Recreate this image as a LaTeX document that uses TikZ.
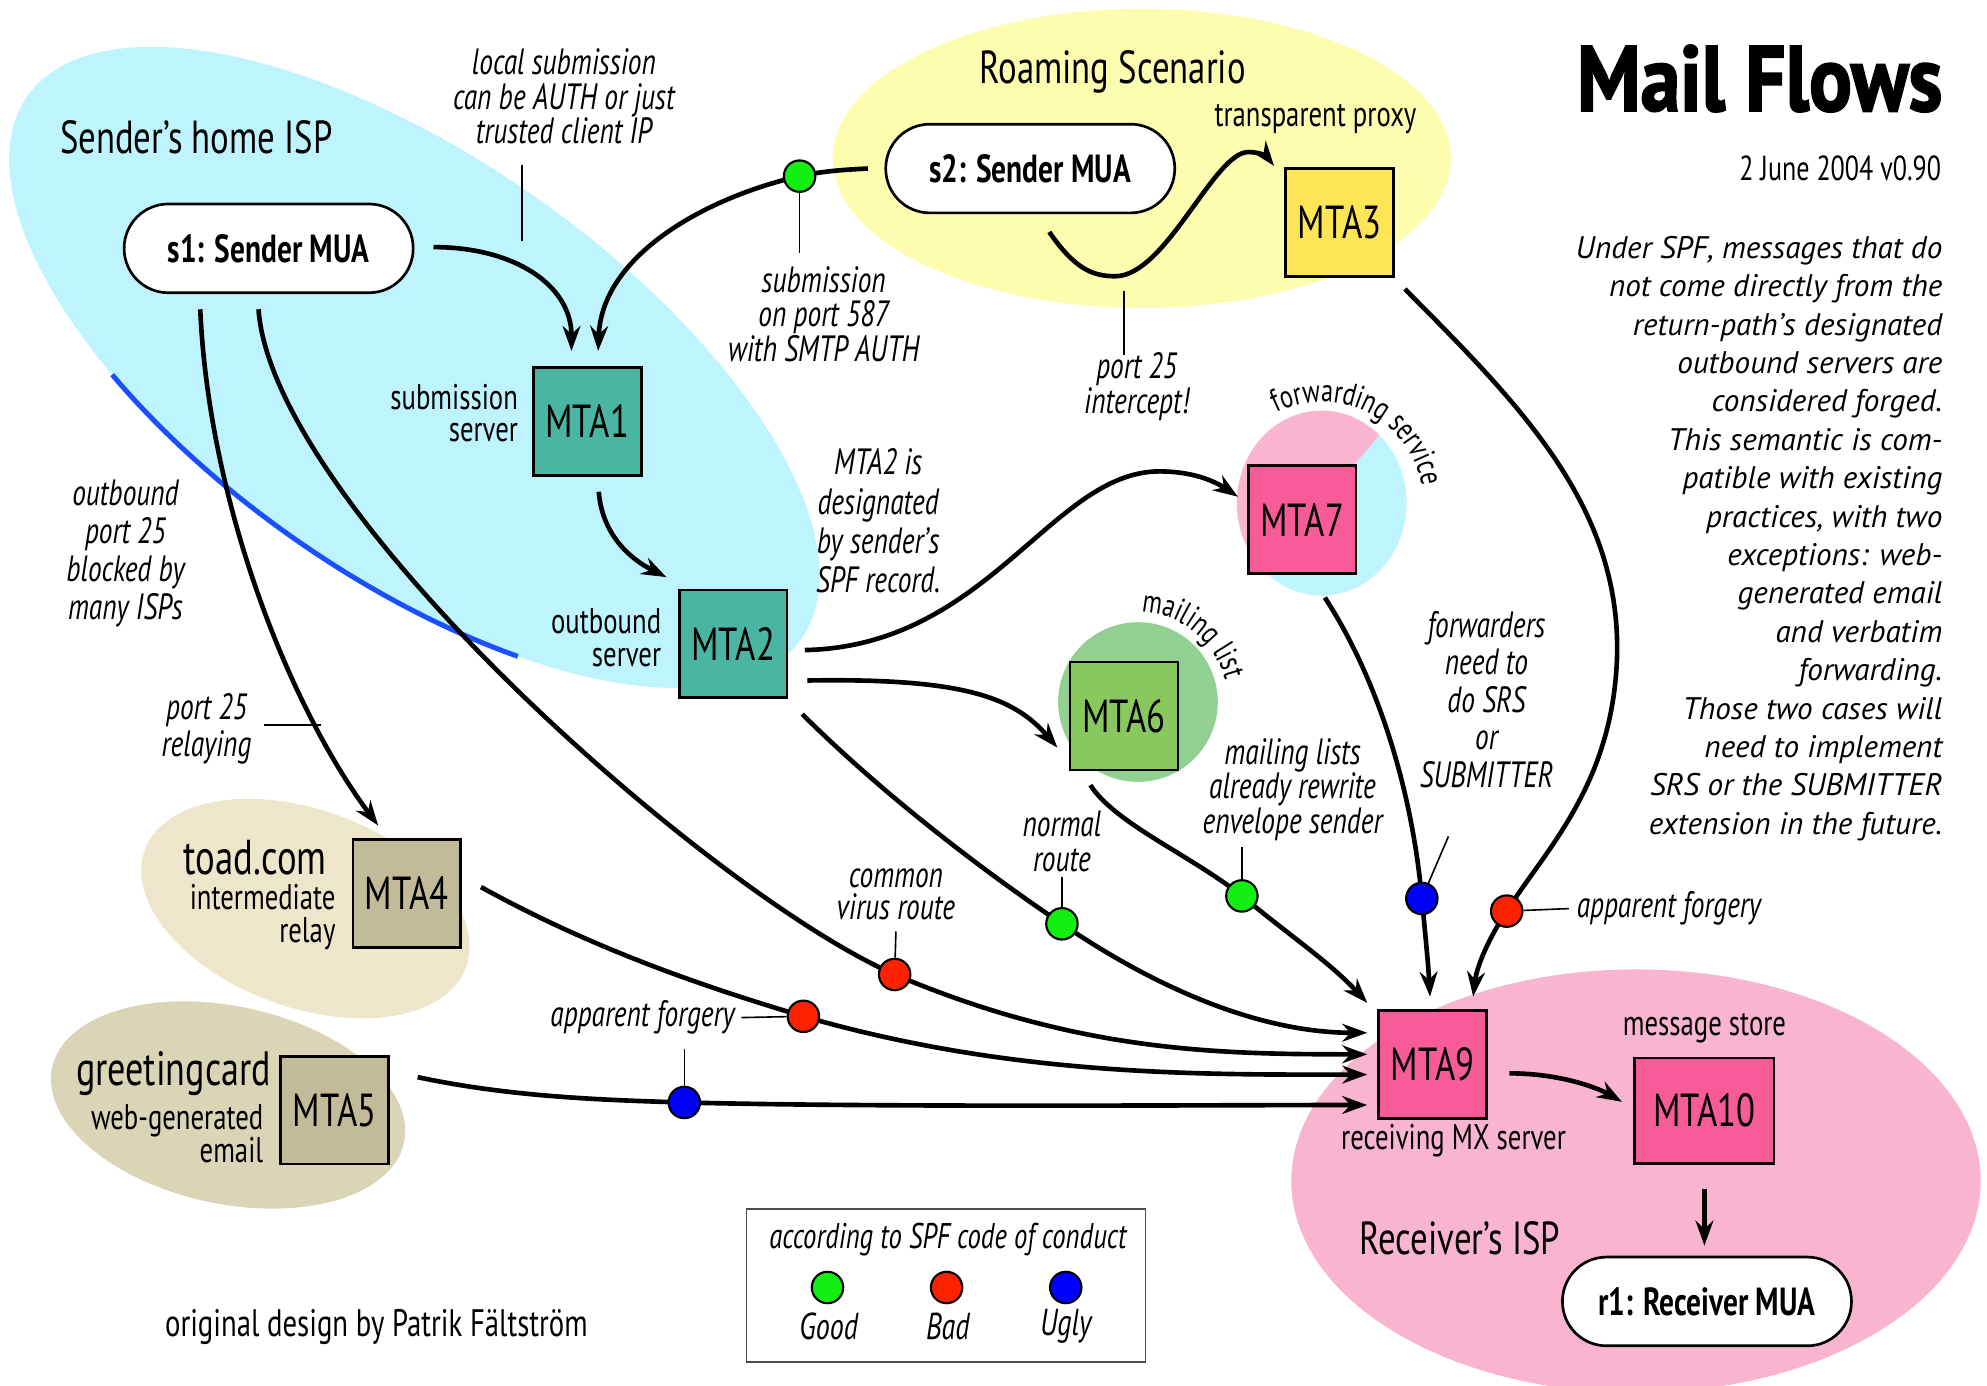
\documentclass[tikz,border=0pt]{standalone}
\usepackage{fontspec}
\setmainfont[FakeStretch=0.75]{PT Sans}
\newfontfamily\widefont{PT Sans}
\newfontfamily\titlefont[FakeStretch=0.86,FakeBold=2]{PT Sans}
\usetikzlibrary{arrows.meta,decorations.text,calc}
\definecolor{ispcyan}{HTML}{BEF4FD}
\definecolor{roamyel}{HTML}{FDFDB0}
\definecolor{rcvpink}{HTML}{F9B5D0}
\definecolor{toadtan}{HTML}{EEE6CB}
\definecolor{cardtan}{HTML}{DAD5B7}
\definecolor{mtateal}{HTML}{4BB5A3}
\definecolor{mtatan}{HTML}{C1BB9A}
\definecolor{mtayel}{HTML}{FEE556}
\definecolor{mtapink}{HTML}{F75B98}
\definecolor{mtagreen}{HTML}{88C85E}
\definecolor{mlgreen}{HTML}{91D091}
\definecolor{dotgreen}{HTML}{11F011}
\definecolor{dotred}{HTML}{FF2200}
\definecolor{dotblue}{HTML}{0000FF}
\definecolor{arcblue}{HTML}{1A50FF}
\tikzset{
  mtabox/.style={draw=black, line width=1.5pt, minimum width=2.125cm, minimum height=2.125cm, inner sep=0pt, font=\fontsize{26}{28}\selectfont},
  muapill/.style={draw=black, line width=1.5pt, fill=white, rounded corners=0.87cm, minimum width=5.7cm, minimum height=1.75cm, inner sep=0pt, font=\bfseries\fontsize{22}{24}\selectfont},
  flowarrow/.style={line width=2.6pt, -{Stealth[length=14pt,width=10pt]}},
  leadline/.style={line width=0.9pt},
  spfdot/.style={circle, draw=black, line width=1.2pt, minimum size=0.62cm, inner sep=0pt},
  itlab/.style={font=\itshape\fontsize{20.5}{19.5}\selectfont, align=center, inner sep=0pt},
  reglab/.style={font=\fontsize{20}{18.5}\selectfont, inner sep=0pt},
  biglab/.style={font=\fontsize{26}{28}\selectfont, inner sep=0pt},
}
\begin{document}
\begin{tikzpicture}[x=0.025cm,y=-0.025cm]
\useasboundingbox (0,0) rectangle (1568,1093.7);
\clip (0,0) rectangle (1568,1093.7);
% ---------- background regions
\fill[ispcyan] plot[domain=0:360,samples=150] ({327+373*cos(\x)*0.8192-165*sin(\x)*0.5736},{290+373*cos(\x)*0.5736+165*sin(\x)*0.8192}) -- cycle;
\fill[roamyel] (901,125) ellipse [x radius=244, y radius=118];
\fill[rcvpink] (1291,932) ellipse [x radius=272, y radius=167];
\fill[toadtan] plot[domain=0:360,samples=100] ({241+135*cos(\x)*0.9397-78*sin(\x)*0.3420},{717+135*cos(\x)*0.3420+78*sin(\x)*0.9397}) -- cycle;
\fill[cardtan] plot[domain=0:360,samples=100] ({180+142*cos(\x)*0.9781-78*sin(\x)*0.2079},{872+142*cos(\x)*0.2079+78*sin(\x)*0.9781}) -- cycle;
\draw[arcblue, line width=2.8pt] plot[domain=58:121,samples=40] ({327+373*cos(\x)*0.8192-165*sin(\x)*0.5736},{290+373*cos(\x)*0.5736+165*sin(\x)*0.8192});
% circles of mailing list and forwarding service
\coordinate (mlc) at (898,554);
\fill[mlgreen] (mlc) circle [radius=63];
\coordinate (fwdc) at (1043,397);
\fill[rcvpink] (fwdc) -- ++(133:67 and 73) arc [start angle=133, end angle=313, x radius=67, y radius=73] -- cycle;
\fill[ispcyan] (fwdc) -- ++(313:67 and 73) arc [start angle=313, end angle=493, x radius=67, y radius=73] -- cycle;
% ---------- region titles
\node[biglab] (isp1) at (155,108) {Sender’s home ISP};
\node[biglab] (roam) at (878,57) {Roaming Scenario};
\node[biglab] (rcv) at (1152,977) {Receiver’s ISP};
% ---------- MUAs and MTAs
\node[muapill] (s1) at (212,196) {s1: Sender MUA};
\node[muapill] (s2) at (813,133) {s2: Sender MUA};
\node[muapill] (r1) at (1347,1027) {r1: Receiver MUA};
\node[mtabox, fill=mtateal] (mta1) at (463.5,332.5) {MTA1};
\node[mtabox, fill=mtateal] (mta2) at (578.5,508) {MTA2};
\node[mtabox, fill=mtayel] (mta3) at (1057,175.5) {MTA3};
\node[mtabox, fill=mtatan] (mta4) at (321,705) {MTA4};
\node[mtabox, fill=mtatan] (mta5) at (264,876) {MTA5};
\node[mtabox, fill=mtagreen] (mta6) at (887,565) {MTA6};
\node[mtabox, fill=mtapink] (mta7) at (1027.5,410) {MTA7};
\node[mtabox, fill=mtapink] (mta9) at (1130.5,840) {MTA9};
\node[mtabox, fill=mtapink, minimum width=2.75cm, minimum height=2.075cm] (mta10) at (1345,876.5) {MTA10};
% ---------- dot positions
\coordinate (g1c) at (631,139);
\coordinate (g2c) at (838,729);
\coordinate (g3c) at (980,707);
\coordinate (r1c) at (706,769);
\coordinate (r2c) at (634,802);
\coordinate (r3c) at (1189,719);
\coordinate (b1c) at (540,870);
\coordinate (b2c) at (1122,709);
% ---------- flows
\draw[flowarrow] ($(s1.east)+(15,-1)$) .. controls (406,195) and (451,225) .. ($(mta1.north)+(-12.5,-12)$);
\draw[flowarrow] ($(s2.west)+(-13,0)$) .. controls (665,134) and (650,135) .. (g1c) .. controls (560,155) and (475,200) .. ($(mta1.north)+(8.5,-12)$);
\draw[flowarrow] ($(mta1.south)+(9,12)$) .. controls (475,420) and (495,440) .. ($(mta2.north west)+(-9,-9)$);
\draw[flowarrow] ($(s1.south)+(-54,12)$) .. controls (165,400) and (230,560) .. ($(mta4.north west)+(21,-10)$);
\draw[flowarrow] ($(s1.south)+(-8,12)$) .. controls (215,400) and (560,705) .. (r1c) .. controls (850,830) and (960,832) .. ($(mta9.west)+(-8,-8)$);
\draw[flowarrow] ($(mta2.south east)+(11,12)$) .. controls (700,630) and (780,690) .. (g2c) .. controls (920,785) and (1000,815) .. ($(mta9.west)+(-8,-25)$);
\draw[flowarrow] ($(mta6.south west)+(17,11)$) .. controls (880,650) and (940,675) .. (g3c) .. controls (1020,740) and (1050,760) .. ($(mta9.north west)+(-8,-5)$);
\draw[flowarrow] ($(mta4.east)+(15,-5)$) .. controls (470,750) and (560,780) .. (r2c) .. controls (800,850) and (950,848) .. ($(mta9.west)+(-8,8)$);
\draw[flowarrow] ($(mta5.east)+(22,-26)$) .. controls (400,865) and (470,868) .. (b1c) .. controls (700,874) and (950,872) .. ($(mta9.west)+(-8,32)$);
\draw[flowarrow] ($(mta7.south)+(18,18)$) .. controls (1090,540) and (1115,630) .. (b2c) .. controls (1125,740) and (1127,760) .. ($(mta9.north)+(-2,-10)$);
\draw[flowarrow] ($(mta3.south east)+(8,9)$) .. controls (1200,320) and (1280,400) .. (1276,520) .. controls (1272,620) and (1220,670) .. (r3c) .. controls (1172,745) and (1165,765) .. ($(mta9.north)+(32,-10)$);
\draw[flowarrow] ($(mta2.east)+(13,5)$) .. controls (780,510) and (830,372) .. (915,372) .. controls (945,372) and (962,382) .. ($(mta7.west)+(-7,-18)$);
\draw[flowarrow] ($(mta2.east)+(15,29)$) .. controls (760,535) and (800,550) .. ($(mta6.west)+(-9,25)$);
\draw[flowarrow] ($(s2.south)+(15,14)$) .. controls (848,212) and (862,218) .. (880,218) .. controls (920,218) and (958,120) .. (985,120) .. controls (995,120) and (1000,124) .. ($(mta3.north west)+(-8,-1)$);
\draw[flowarrow] ($(mta9.east)+(17,7)$) .. controls (1230,847) and (1260,858) .. ($(mta10.west)+(-9,-7)$);
\draw[flowarrow] ($(mta10.south)+(0,19)$) -- ($(r1.north)+(-2,-8)$);
% ---------- dots
\node[spfdot, fill=dotgreen] (g1) at (g1c) {};
\node[spfdot, fill=dotgreen] (g2) at (g2c) {};
\node[spfdot, fill=dotgreen] (g3) at (g3c) {};
\node[spfdot, fill=dotred] (r1d) at (r1c) {};
\node[spfdot, fill=dotred] (r2d) at (r2c) {};
\node[spfdot, fill=dotred] (r3d) at (r3c) {};
\node[spfdot, fill=dotblue] (b1) at (b1c) {};
\node[spfdot, fill=dotblue] (b2) at (b2c) {};
% ---------- labels
\node[itlab] (localsub) at (445,76) {local submission\\can be AUTH or just\\trusted client IP};
\node[reglab] (tproxy) at (1038,94) {transparent proxy};
\node[reglab, anchor=east, align=right] (subsrv) at (409,326) {submission\\server};
\node[reglab, anchor=east, align=right] (outsrv) at (522,503) {outbound\\server};
\node[itlab] (sub587) at (650,248) {submission\\on port 587\\with SMTP AUTH};
\node[itlab, font=\itshape\fontsize{20.5}{18}\selectfont] (p25i) at (897,305) {port 25\\intercept!};
\node[itlab, font=\itshape\fontsize{20.5}{21.3}\selectfont] (blocked) at (99,437) {outbound\\port 25\\blocked by\\many ISPs};
\node[itlab, font=\itshape\fontsize{20.5}{20.6}\selectfont] (relay25) at (163,575) {port 25\\relaying};
\node[itlab, font=\itshape\fontsize{20.5}{22}\selectfont] (desig) at (693,411) {MTA2 is\\designated\\by sender’s\\SPF record.};
\node[itlab, font=\itshape\fontsize{20.5}{21}\selectfont] (fwders) at (1173,552) {forwarders\\need to\\do SRS\\or\\SUBMITTER};
\node[itlab] (mlrew) at (1020,623) {mailing lists\\already rewrite\\envelope sender};
\node[itlab] (normal) at (838,664) {normal\\route};
\node[itlab, font=\itshape\fontsize{20.5}{18}\selectfont] (virus) at (707,706) {common\\virus route};
\node[biglab, anchor=east, font=\fontsize{27.5}{28}\selectfont] (toad) at (258,677) {toad.com};
\node[reglab, anchor=east, align=right] (toadsub) at (265,724) {intermediate\\relay};
\node[biglab, anchor=east, font=\fontsize{27}{28}\selectfont] (card) at (214,847) {greetingcard};
\node[reglab, anchor=east, align=right] (cardsub) at (208,895) {web-generated\\email};
\node[itlab, anchor=east] (forg1) at (580,803) {apparent forgery};
\node[itlab, anchor=west] (forg2) at (1244,717) {apparent forgery};
\node[reglab] (mstore) at (1345,811) {message store};
\node[reglab] (mxsrv) at (1147,900) {receiving MX server};
\node[reglab, font=\fontsize{21.5}{22}\selectfont] (credit) at (297,1047) {original design by Patrik Fältström};
% curved labels
\path[decorate, decoration={text along path, text align=center, text={|\fontsize{18}{18}\selectfont|forwarding service}}] ($(fwdc)+(222:80)$) arc (222:372:80);
\path[decorate, decoration={text along path, text align=center, text={|\fontsize{18}{18}\selectfont|mailing list}}] ($(mlc)+(245:71)$) arc (245:373:71);
% ---------- leader lines
\coordinate (lsa) at (412,130);
\coordinate (lsb) at (412,190);
\draw[leadline] (lsa) -- (lsb);
\coordinate (g1l) at (631,200);
\draw[leadline] (g1) -- (g1l);
\coordinate (p25a) at (887,230);
\coordinate (p25b) at (887,280);
\draw[leadline] (p25a) -- (p25b);
\coordinate (rla) at (208,572);
\coordinate (rlb) at (253,572);
\draw[leadline] (rla) -- (rlb);
\coordinate (g2l) at (838,692);
\draw[leadline] (g2) -- (g2l);
\coordinate (r1l) at (707,735);
\draw[leadline] (r1d) -- (r1l);
\coordinate (g3l) at (980,668);
\draw[leadline] (g3) -- (g3l);
\coordinate (b2l) at (1143,660);
\draw[leadline] (b2) -- (b2l);
\draw[leadline] (r2d) -- ($(forg1.east)+(5,0)$);
\draw[leadline] (r3d) -- ($(forg2.west)+(-6,0)$);
\coordinate (b1l) at (540,828);
\draw[leadline] (b1) -- (b1l);
% ---------- title block
\node[anchor=east, inner sep=0pt, font=\titlefont\bfseries\fontsize{52}{56}\selectfont] (title) at (1533,62) {Mail Flows};
\node[anchor=east, inner sep=0pt, font=\fontsize{19.5}{22}\selectfont] (date) at (1532,133) {2 June 2004 v0.90};
\node[anchor=north east, align=right, inner sep=0pt, font=\widefont\itshape\fontsize{17.5}{21.55}\selectfont] (para) at (1533,186) {Under SPF, messages that do\\not come directly from the\\return-path’s designated\\outbound servers are\\considered forged.\\This semantic is com-\\patible with existing\\practices, with two\\exceptions: web-\hspace*{5pt}\\generated email\\and verbatim\\forwarding.\\Those two cases will\\need to implement\\SRS or the SUBMITTER\\extension in the future.};
% ---------- legend
\node[draw=black!70, line width=0.9pt, minimum width=7.875cm, minimum height=3.025cm, inner sep=0pt] (legend) at (746.5,1014.5) {};
\node[itlab, font=\itshape\fontsize{20}{20}\selectfont] (legtitle) at (748,978) {according to SPF code of conduct};
\node[spfdot, fill=dotgreen] (lg) at (653,1016) {};
\node[spfdot, fill=dotred] (lr) at (747,1016) {};
\node[spfdot, fill=dotblue] (lb) at (841,1016) {};
\node[itlab, font=\itshape\fontsize{21}{20}\selectfont] (lgood) at (654,1047) {Good};
\node[itlab, font=\itshape\fontsize{21}{20}\selectfont] (lbad) at (748,1047) {Bad};
\node[itlab, font=\itshape\fontsize{21}{20}\selectfont] (lugly) at (841,1047) {Ugly};
\end{tikzpicture}
\end{document}
